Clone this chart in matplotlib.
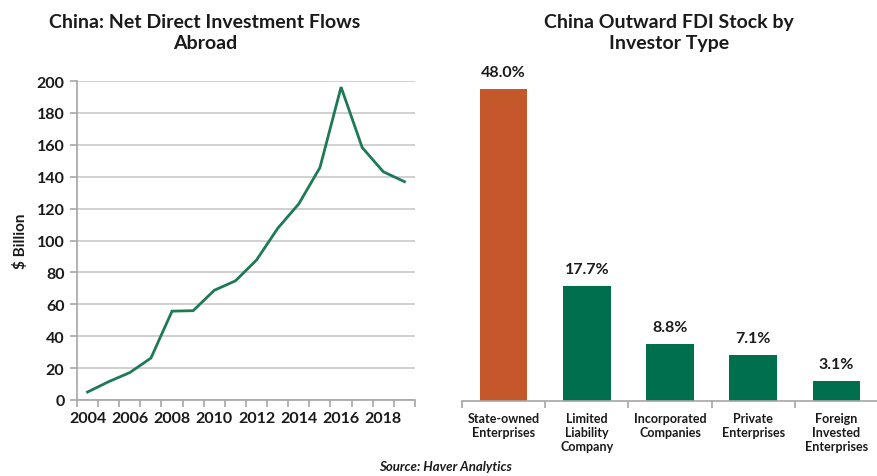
import matplotlib
matplotlib.use("Agg")
import matplotlib.pyplot as plt
import numpy as np

plt.rcParams['font.family'] = ['Lato', 'DejaVu Sans']

# Left chart data
years = list(range(2004, 2020))
flows = [5.0, 11.5, 17.2, 26.3, 55.7, 56.0, 68.8, 74.7, 87.8, 107.6, 123.0, 145.7, 196.2, 158.3, 143.1, 136.9]
year_labels = [str(y) for y in range(2004, 2020, 2)]

# Right chart data
categories = ["State-owned\nEnterprises", "Limited\nLiability\nCompany", "Incorporated\nCompanies",
              "Private\nEnterprises", "Foreign\nInvested\nEnterprises"]
shares = [48.0, 17.7, 8.8, 7.1, 3.1]
bar_colors = ["#C5582A", "#006F4E", "#006F4E", "#006F4E", "#006F4E"]

line_color = "#1E7A55"
grid_color = "#C8C8C8"
spine_color = "#A6A6A6"
text_color = "#1A1A1A"

W, H = 878, 477
fig = plt.figure(figsize=(W / 100, H / 100), dpi=100)

# ---- Left axes ----
axL = fig.add_axes([77 / W, 1 - 401 / H, (415 - 77) / W, (401 - 82) / H])
x = np.arange(len(years))
axL.plot(x, flows, color=line_color, lw=2.0, solid_joinstyle='miter')
axL.set_xlim(-0.5, len(years) - 0.5)
axL.set_ylim(0, 200)
axL.set_yticks(range(0, 201, 20))
axL.yaxis.grid(True, color=grid_color, lw=1.2)
axL.set_axisbelow(True)
for s in ['top', 'right']:
    axL.spines[s].set_visible(False)
for s in ['left', 'bottom']:
    axL.spines[s].set_color(spine_color)
    axL.spines[s].set_linewidth(1.2)
axL.set_xticks(np.arange(0, len(years), 2))
axL.set_xticklabels(year_labels)
axL.set_xticks(np.arange(-0.5, len(years), 1), minor=True)
axL.tick_params(axis='x', which='major', length=0, pad=8, labelsize=11.5, labelcolor=text_color)
axL.tick_params(axis='x', which='minor', length=5, color=spine_color, width=1.2)
axL.tick_params(axis='y', length=5, color=spine_color, width=1.2, labelsize=11.5, labelcolor=text_color, pad=4)
for lab in axL.get_xticklabels() + axL.get_yticklabels():
    lab.set_fontweight('bold')
axL.set_ylabel("$ Billion", fontsize=11, fontweight='bold', color=text_color, labelpad=6)

fig.text(205 / W, 1 - 33 / H, "China: Net Direct Investment Flows\nAbroad", ha='center', va='center',
         fontsize=14, fontweight='bold', color=text_color, linespacing=1.3)

# ---- Right axes ----
axR = fig.add_axes([462 / W, 1 - 402 / H, (878 - 462) / W, (402 - 60) / H])
xr = np.arange(len(categories))
bars = axR.bar(xr, shares, width=0.57, color=bar_colors)
axR.set_xlim(-0.5, 4.42)
axR.set_ylim(0, 52.6)
for s in ['top', 'right', 'left']:
    axR.spines[s].set_visible(False)
axR.spines['bottom'].set_color(spine_color)
axR.spines['bottom'].set_linewidth(1.2)
axR.set_yticks([])
axR.set_xticks(xr)
axR.set_xticklabels(categories)
axR.set_xticks(np.arange(-0.5, len(categories), 1), minor=True)
axR.tick_params(axis='x', which='major', length=0, pad=8, labelsize=9, labelcolor=text_color)
axR.tick_params(axis='x', which='minor', length=5, color=spine_color, width=1.2)
for lab in axR.get_xticklabels():
    lab.set_fontweight('bold')
    lab.set_linespacing(1.2)
for xi, v in zip(xr, shares):
    axR.annotate(f"{v:.1f}%", (xi, v), xytext=(0, 7), textcoords='offset points',
                 ha='center', va='bottom', fontsize=11.5, fontweight='bold', color=text_color)

fig.text(669 / W, 1 - 33 / H, "China Outward FDI Stock by\nInvestor Type", ha='center', va='center',
         fontsize=14, fontweight='bold', color=text_color, linespacing=1.3)

fig.text(445 / W, 1 - 467 / H, "Source: Haver Analytics", ha='center', va='center',
         fontsize=9.5, fontweight='bold', style='italic', color=text_color)

fig.savefig("out.png", dpi=100)
